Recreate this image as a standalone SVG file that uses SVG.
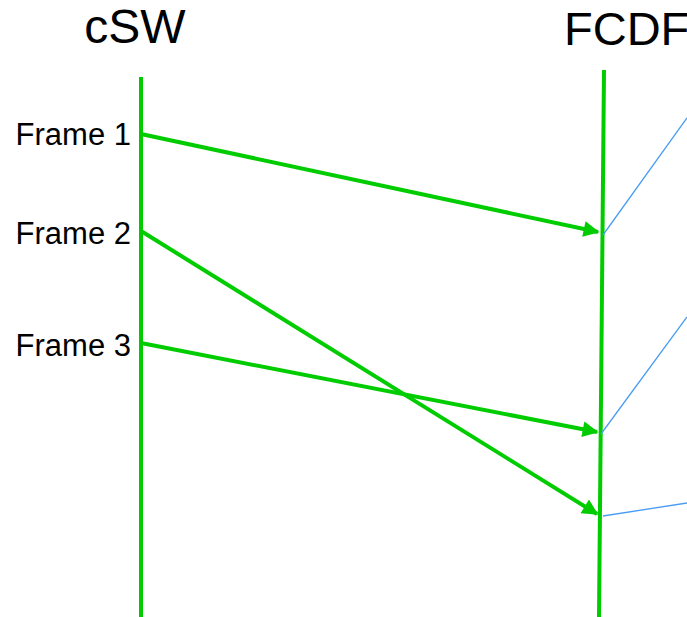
<svg xmlns="http://www.w3.org/2000/svg" width="687" height="617" viewBox="0 0 687 617">
<style>
.t{font-family:"Liberation Sans",Arial,sans-serif;fill:#000}
.life{stroke:#00cc00;stroke-width:4;fill:none}
.msg{stroke:#00cc00;stroke-width:4;fill:none}
.note{stroke:#4a9cf4;stroke-width:1.3;fill:none}
</style>
<defs>
<marker id="ah" viewBox="0 0 10 10" refX="9" refY="5" markerWidth="4.5" markerHeight="4" orient="auto" markerUnits="strokeWidth">
<path d="M0,0 L10,5 L0,10 Z" fill="#00cc00"/>
</marker>
</defs>
<g id="cSW">
<text class="t" x="135" y="43" font-size="48" text-anchor="middle">cSW</text>
<line class="life" x1="141" y1="77" x2="141" y2="617"/>
</g>
<g id="FCDF">
<text class="t" x="564" y="45" font-size="47">FCDF</text>
<line class="life" x1="604" y1="70" x2="599" y2="617"/>
</g>
<g id="labels">
<text class="t" x="131" y="145" font-size="31" text-anchor="end">Frame 1</text>
<text class="t" x="131" y="244" font-size="31" text-anchor="end">Frame 2</text>
<text class="t" x="131" y="356" font-size="31" text-anchor="end">Frame 3</text>
</g>
<g id="connectors">
<line class="msg" x1="141" y1="134" x2="598" y2="232" marker-end="url(#ah)"/>
<line class="msg" x1="141" y1="231" x2="597" y2="514" marker-end="url(#ah)"/>
<line class="msg" x1="141" y1="343" x2="597" y2="432" marker-end="url(#ah)"/>
<line class="note" x1="603" y1="235" x2="687" y2="118"/>
<line class="note" x1="601" y1="434" x2="687" y2="317"/>
<line class="note" x1="603" y1="516" x2="687" y2="503"/>
</g>
</svg>
